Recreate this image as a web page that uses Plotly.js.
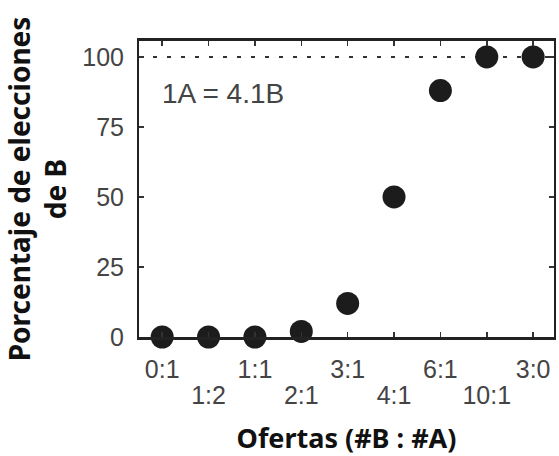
<!DOCTYPE html>
<html>
<head>
<meta charset="utf-8">
<script src="https://cdn.plot.ly/plotly-3.0.1.min.js"></script>
<style>html,body{margin:0;padding:0;background:#fff;}#chart{width:559px;height:456px;}</style>
</head>
<body>
<div id="chart"></div>
<script>
const offers = ["0:1", "1:2", "1:1", "2:1", "3:1", "4:1", "6:1", "10:1", "3:0"];
const pctB = [0, 0, 0, 2, 12, 50, 88, 100, 100];
const yTicks = [0, 25, 50, 75, 100];
const indifference = "1A = 4.1B";

const xIdx = offers.map((_, i) => i);
const oddIdx = xIdx.filter(i => i % 2 === 1);

const trace = {
  x: xIdx,
  y: pctB,
  type: "scatter",
  mode: "markers",
  cliponaxis: false,
  marker: { size: 23, color: "#1c1c1c" },
  hoverinfo: "skip"
};
const labelRow2 = { x: [], y: [], type: "scatter", mode: "markers", xaxis: "x2", yaxis: "y", hoverinfo: "skip" };

const tickFont = { family: "'Liberation Sans', Arial, sans-serif", size: 25, color: "#444" };

const layout = {
  width: 559,
  height: 456,
  margin: { l: 139, r: 5, t: 41, b: 119 },
  paper_bgcolor: "#fff",
  plot_bgcolor: "#fff",
  showlegend: false,
  xaxis: {
    range: [-0.5, 8.45],
    tickvals: xIdx,
    ticktext: xIdx.map(i => (i % 2 === 0 ? offers[i] : "")),
    ticks: "inside",
    ticklen: 5,
    tickwidth: 1.5,
    tickcolor: "#333",
    showline: true,
    linecolor: "#222",
    linewidth: 3,
    mirror: "ticks",
    showgrid: false,
    zeroline: false,
    tickfont: tickFont,
    ticklabelstandoff: 8,
    title: { text: "Ofertas (#B : #A)", font: { family: "'Noto Sans', sans-serif", size: 27, color: "#111", weight: 700 }, standoff: 56 },
    automargin: false
  },
  xaxis2: {
    overlaying: "x",
    matches: "x",
    anchor: "y",
    side: "bottom",
    range: [-0.5, 8.45],
    tickvals: oddIdx,
    ticktext: oddIdx.map(i => offers[i]),
    ticks: "",
    showline: false,
    showgrid: false,
    zeroline: false,
    tickfont: tickFont,
    ticklabelstandoff: 41,
    automargin: false
  },
  yaxis: {
    range: [0, 105.7],
    tickvals: yTicks,
    ticks: "inside",
    ticklen: 5,
    tickwidth: 1.5,
    tickcolor: "#333",
    showline: true,
    linecolor: "#222",
    linewidth: 2,
    mirror: "ticks",
    showgrid: false,
    zeroline: false,
    tickfont: tickFont,
    ticklabelstandoff: 8,
    title: { text: "Porcentaje de elecciones<br>de B", font: { family: "'Noto Sans', sans-serif", size: 28, color: "#111", weight: 700 }, standoff: 10 }
  },
  shapes: [{
    type: "line", xref: "paper", x0: 0, x1: 1, yref: "y", y0: 100, y1: 100,
    line: { color: "#333", width: 2, dash: "4px,10px" }, layer: "below"
  }],
  annotations: [{
    text: indifference, xref: "x", yref: "y", x: -0.05, y: 87, xanchor: "left", yanchor: "middle",
    showarrow: false, font: { family: "'Liberation Sans', Arial, sans-serif", size: 28, color: "#444" }
  }]
};

Plotly.newPlot("chart", [trace, labelRow2], layout, { displayModeBar: false, staticPlot: true });
</script>
</body>
</html>
